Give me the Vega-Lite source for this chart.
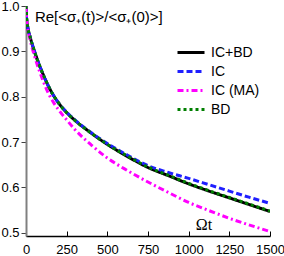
{
  "$schema": "https://vega.github.io/schema/vega-lite/v6.json",
  "width": 244,
  "height": 230,
  "autosize": {"type": "none"},
  "padding": {"left": 26, "top": 6, "right": 14, "bottom": 20},
  "background": "white",
  "config": {
    "view": {"stroke": null},
    "axis": {"grid": false, "labelFont": "Liberation Sans", "labelFontSize": 13, "labelColor": "black", "title": null}
  },
  "datasets": {
    "curves": [
      {"s": "IC+BD", "t": 0, "v": 1.0}, {"s": "IC+BD", "t": 2, "v": 0.981}, {"s": "IC+BD", "t": 5, "v": 0.968}, {"s": "IC+BD", "t": 12, "v": 0.951}, {"s": "IC+BD", "t": 25, "v": 0.932}, {"s": "IC+BD", "t": 53, "v": 0.899}, {"s": "IC+BD", "t": 103, "v": 0.851}, {"s": "IC+BD", "t": 164, "v": 0.806}, {"s": "IC+BD", "t": 205, "v": 0.784}, {"s": "IC+BD", "t": 250, "v": 0.765}, {"s": "IC+BD", "t": 291, "v": 0.751}, {"s": "IC+BD", "t": 400, "v": 0.72}, {"s": "IC+BD", "t": 500, "v": 0.695}, {"s": "IC+BD", "t": 625, "v": 0.668}, {"s": "IC+BD", "t": 750, "v": 0.644}, {"s": "IC+BD", "t": 875, "v": 0.626}, {"s": "IC+BD", "t": 1000, "v": 0.608}, {"s": "IC+BD", "t": 1125, "v": 0.592}, {"s": "IC+BD", "t": 1250, "v": 0.577}, {"s": "IC+BD", "t": 1375, "v": 0.562}, {"s": "IC+BD", "t": 1500, "v": 0.547},
      {"s": "IC", "t": 0, "v": 1.0}, {"s": "IC", "t": 2, "v": 0.981}, {"s": "IC", "t": 5, "v": 0.968}, {"s": "IC", "t": 12, "v": 0.951}, {"s": "IC", "t": 25, "v": 0.932}, {"s": "IC", "t": 53, "v": 0.899}, {"s": "IC", "t": 103, "v": 0.851}, {"s": "IC", "t": 164, "v": 0.806}, {"s": "IC", "t": 205, "v": 0.784}, {"s": "IC", "t": 250, "v": 0.766}, {"s": "IC", "t": 291, "v": 0.752}, {"s": "IC", "t": 400, "v": 0.721}, {"s": "IC", "t": 500, "v": 0.697}, {"s": "IC", "t": 625, "v": 0.671}, {"s": "IC", "t": 750, "v": 0.648}, {"s": "IC", "t": 875, "v": 0.633}, {"s": "IC", "t": 1000, "v": 0.62}, {"s": "IC", "t": 1125, "v": 0.606}, {"s": "IC", "t": 1250, "v": 0.592}, {"s": "IC", "t": 1375, "v": 0.578}, {"s": "IC", "t": 1500, "v": 0.565},
      {"s": "IC (MA)", "t": 0, "v": 1.0}, {"s": "IC (MA)", "t": 2, "v": 0.98}, {"s": "IC (MA)", "t": 5, "v": 0.966}, {"s": "IC (MA)", "t": 12, "v": 0.948}, {"s": "IC (MA)", "t": 25, "v": 0.926}, {"s": "IC (MA)", "t": 53, "v": 0.889}, {"s": "IC (MA)", "t": 103, "v": 0.837}, {"s": "IC (MA)", "t": 137, "v": 0.808}, {"s": "IC (MA)", "t": 170, "v": 0.787}, {"s": "IC (MA)", "t": 209, "v": 0.767}, {"s": "IC (MA)", "t": 250, "v": 0.749}, {"s": "IC (MA)", "t": 300, "v": 0.728}, {"s": "IC (MA)", "t": 400, "v": 0.694}, {"s": "IC (MA)", "t": 500, "v": 0.665}, {"s": "IC (MA)", "t": 625, "v": 0.637}, {"s": "IC (MA)", "t": 750, "v": 0.612}, {"s": "IC (MA)", "t": 875, "v": 0.589}, {"s": "IC (MA)", "t": 1000, "v": 0.567}, {"s": "IC (MA)", "t": 1125, "v": 0.549}, {"s": "IC (MA)", "t": 1250, "v": 0.532}, {"s": "IC (MA)", "t": 1375, "v": 0.517}, {"s": "IC (MA)", "t": 1500, "v": 0.503},
      {"s": "BD", "t": 0, "v": 1.0}, {"s": "BD", "t": 2, "v": 0.981}, {"s": "BD", "t": 5, "v": 0.968}, {"s": "BD", "t": 12, "v": 0.951}, {"s": "BD", "t": 25, "v": 0.932}, {"s": "BD", "t": 53, "v": 0.899}, {"s": "BD", "t": 103, "v": 0.851}, {"s": "BD", "t": 164, "v": 0.806}, {"s": "BD", "t": 205, "v": 0.784}, {"s": "BD", "t": 250, "v": 0.765}, {"s": "BD", "t": 291, "v": 0.751}, {"s": "BD", "t": 400, "v": 0.72}, {"s": "BD", "t": 500, "v": 0.695}, {"s": "BD", "t": 625, "v": 0.669}, {"s": "BD", "t": 750, "v": 0.645}, {"s": "BD", "t": 875, "v": 0.627}, {"s": "BD", "t": 1000, "v": 0.609}, {"s": "BD", "t": 1125, "v": 0.593}, {"s": "BD", "t": 1250, "v": 0.578}, {"s": "BD", "t": 1375, "v": 0.563}, {"s": "BD", "t": 1500, "v": 0.548}
    ]
  },
  "layer": [
    {
      "data": {"name": "curves"},
      "mark": {"type": "line", "strokeWidth": 3, "clip": true, "interpolate": "monotone"},
      "encoding": {
        "x": {
          "field": "t", "type": "quantitative",
          "scale": {"domain": [0, 1500], "nice": false, "zero": false},
          "axis": {
            "values": [0, 125, 250, 375, 500, 625, 750, 875, 1000, 1125, 1250, 1375, 1500],
            "labelExpr": "datum.value % 250 == 0 ? datum.label : ''",
            "format": "d",
            "tickSize": {"condition": {"test": "datum.value % 250 == 0", "value": -5}, "value": -3},
            "tickColor": "black",
            "tickWidth": 1,
            "domainColor": "black",
            "domainWidth": 1.5,
            "labelPadding": 12,
            "labelFlush": false,
            "labelOverlap": false
          }
        },
        "y": {
          "field": "v", "type": "quantitative",
          "scale": {"domain": [0.493, 1.0], "nice": false, "zero": false},
          "axis": {
            "values": [0.5, 0.55, 0.6, 0.65, 0.7, 0.75, 0.8, 0.85, 0.9, 0.95, 1.0],
            "labelExpr": "abs(datum.value * 10 - round(datum.value * 10)) < 0.01 ? format(datum.value, '.1f') : ''",
            "tickSize": {"condition": {"test": "abs(datum.value * 10 - round(datum.value * 10)) < 0.01", "value": 5}, "value": 3},
            "tickColor": "#404040",
            "tickWidth": 1,
            "domainColor": "#808080",
            "domainWidth": 2,
            "labelPadding": 2,
            "labelFlush": false,
            "labelOverlap": false
          }
        },
        "color": {
          "field": "s", "type": "nominal",
          "scale": {"domain": ["IC+BD", "IC", "IC (MA)", "BD"], "range": ["#000000", "#1f1fff", "#ff00ff", "#007f00"]},
          "legend": {
            "orient": "none", "legendX": 150, "legendY": 37, "title": null,
            "symbolType": "stroke", "symbolSize": 729, "symbolStrokeWidth": 3,
            "labelFontSize": 14, "labelFont": "Liberation Sans", "labelColor": "black",
            "labelOffset": 5, "rowPadding": 0, "padding": 0, "labelLimit": 0,
            "clipHeight": 19
          }
        },
        "strokeDash": {
          "field": "s", "type": "nominal",
          "scale": {"domain": ["IC+BD", "IC", "IC (MA)", "BD"], "range": [[1, 0], [6, 3], [6, 3, 2, 3], [3, 3]]},
          "legend": null
        }
      }
    },
    {
      "data": {"values": [{}]},
      "mark": {"type": "text", "text": "Re[<σ₊(t)>/<σ₊(0)>]", "align": "left", "baseline": "middle", "font": "Liberation Sans", "fontSize": 15, "color": "black"},
      "encoding": {"x": {"datum": 55, "type": "quantitative"}, "y": {"datum": 0.976, "type": "quantitative"}}
    },
    {
      "data": {"values": [{}]},
      "mark": {"type": "text", "text": "Ωt", "align": "center", "baseline": "middle", "font": "Liberation Serif", "fontSize": 16, "color": "black"},
      "encoding": {"x": {"datum": 1094, "type": "quantitative"}, "y": {"datum": 0.517, "type": "quantitative"}}
    }
  ]
}
